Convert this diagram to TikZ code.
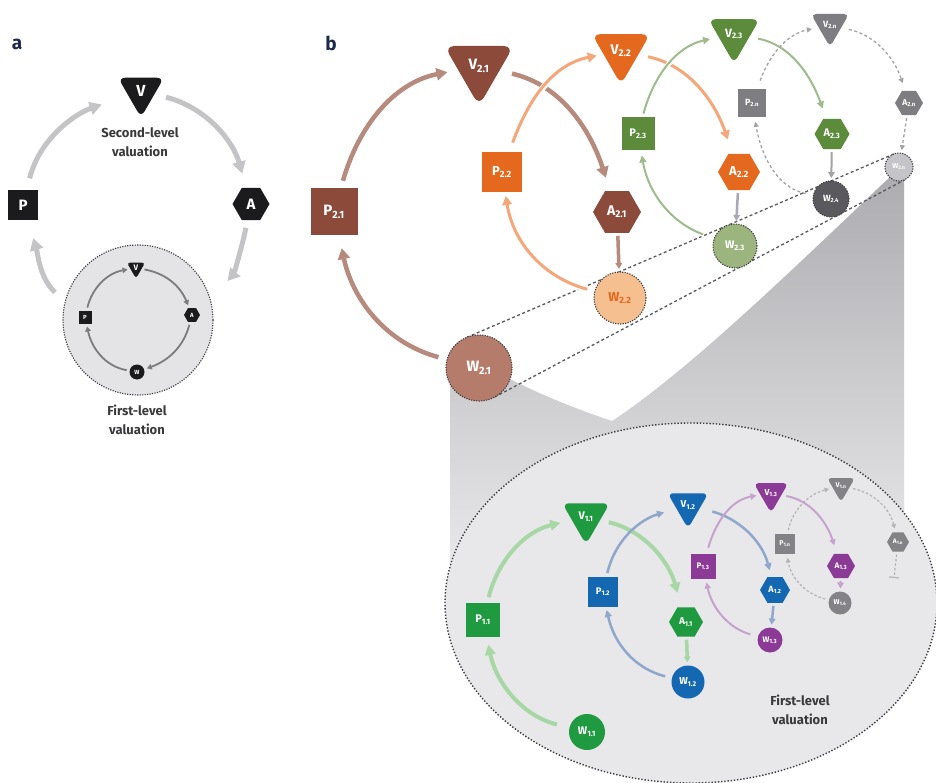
\documentclass[tikz,border=0pt]{standalone}
\usepackage{fontspec}
\setmainfont{Fira Sans}
\usetikzlibrary{shapes.geometric,arrows.meta}
\pgfdeclarelayer{bg}
\pgfsetlayers{bg,main}

% palette
\definecolor{navy}{HTML}{1C2B4A}
\definecolor{blk}{HTML}{1B1B1D}
\definecolor{aArr}{HTML}{C4C4C6}
\definecolor{aIn}{HTML}{7C7C80}
\definecolor{aFill}{HTML}{E4E4E6}
\definecolor{dotc}{HTML}{3C3C3E}
\definecolor{txtc}{HTML}{3A3A3C}
\definecolor{brD}{HTML}{8C4A3B}
\definecolor{brW}{HTML}{B57C6B}
\definecolor{brArr}{HTML}{B68A7C}
\definecolor{orD}{HTML}{E4691E}
\definecolor{orW}{HTML}{F6BF8F}
\definecolor{orArr}{HTML}{F5A77A}
\definecolor{olD}{HTML}{5B8B3B}
\definecolor{olW}{HTML}{9CB57F}
\definecolor{olArr}{HTML}{9DBB8C}
\definecolor{gyD}{HTML}{7E7E82}
\definecolor{gyW}{HTML}{5A5A5E}
\definecolor{gyWn}{HTML}{C5C5C9}
\definecolor{gyArr}{HTML}{A2A2A6}
\definecolor{lnkC}{HTML}{A9A9B5}
\definecolor{gnD}{HTML}{1F9A40}
\definecolor{gnArr}{HTML}{A6D7A5}
\definecolor{buD}{HTML}{1468B2}
\definecolor{buArr}{HTML}{8EA7CB}
\definecolor{puD}{HTML}{8B3B96}
\definecolor{puArr}{HTML}{C6A2CD}
\definecolor{g1D}{HTML}{838387}
\definecolor{g1Arr}{HTML}{B2B2B6}
\definecolor{eFill}{HTML}{E8E8EA}
\definecolor{coneT}{HTML}{ACACB0}
\definecolor{coneB}{HTML}{ECECEE}

\newcommand\fsz[1]{\fontsize{#1}{#1}\selectfont\bfseries}
\newcommand\fszl[2]{\fontsize{#1}{#2}\selectfont\bfseries}

\tikzset{
  every node/.style={inner sep=0pt, outer sep=0pt},
  vnode/.style={regular polygon, regular polygon sides=3, shape border rotate=180, rounded corners=#1},
  vnode/.default=4pt,
  pnode/.style={rectangle},
  anode/.style={regular polygon, regular polygon sides=6},
  wnode/.style={circle},
  wdot/.style={draw=dotc, line width=1.1pt, dash pattern=on 1.2pt off 1.3pt},
  lbl/.style={font=\fsz{19}, text=navy},
  caption/.style={font=\fszl{13}{19}, text=txtc, align=center},
  halo/.style={preaction={draw=white, line width=#1, -}},
  bigA/.style={draw=aArr, line width=5pt, -{Triangle[length=12pt,width=13pt]}},
  inA/.style={draw=aIn, line width=1.8pt, -{Triangle[length=5pt,width=5.5pt]}, shorten <=3pt, shorten >=3pt},
  brA/.style={draw=brArr, line width=4.5pt, -{Triangle[length=11pt,width=12pt]}},
  orA/.style={draw=orArr, line width=3pt, -{Triangle[length=9pt,width=9.5pt]}, halo=6pt},
  olA/.style={draw=olArr, line width=2pt, -{Triangle[length=7pt,width=7pt]}, halo=5pt},
  gyA/.style={draw=gyArr, line width=1.3pt, dash pattern=on 3pt off 2.5pt, -{Triangle[length=5pt,width=5pt]}},
  gnA/.style={draw=gnArr, line width=4pt, -{Triangle[length=10pt,width=10.5pt]}},
  buA/.style={draw=buArr, line width=2.5pt, -{Triangle[length=7pt,width=7pt]}},
  puA/.style={draw=puArr, line width=2pt, -{Triangle[length=6pt,width=6pt]}},
  g1A/.style={draw=g1Arr, line width=1.2pt, dash pattern=on 2.5pt off 2pt, -{Triangle[length=4.5pt,width=4.5pt]}},
  link/.style={line width=#1, -{Triangle[length=6pt,width=6.5pt]}, shorten <=3pt, shorten >=3pt},
  zl/.style={draw=gyW, line width=1.3pt, dash pattern=on 3pt off 2.5pt},
}

\begin{document}
\begin{tikzpicture}[x=1pt,y=-1pt]
\useasboundingbox (0,0) rectangle (936,783);

% ================= panel a =================
\node[lbl] (la) at (17,44) {a};
\node[vnode=7pt, minimum size=53, fill=blk, text=white, font=\fsz{16}] (aV) at (141,91) {V};
\node[pnode, minimum size=30, fill=blk, text=white, font=\fsz{15}] (aP) at (23,205) {P};
\node[anode, minimum size=37, fill=blk, text=white, font=\fsz{15}] (aA) at (251,204) {A};
\node[wnode, minimum size=150, fill=aFill, wdot] (aD) at (138,320) {};
\node[vnode=3pt, minimum size=21, fill=blk, text=white, font=\fsz{8}] (iV) at (136,268) {V};
\node[anode, minimum size=16, fill=blk, text=white, font=\fsz{6}] (iA) at (192,315) {A};
\node[wnode, minimum size=15, fill=blk, text=white, font=\fsz{6}] (iW) at (137,372) {W};
\node[pnode, minimum size=13, fill=blk, text=white, font=\fsz{6}] (iP) at (85,317) {P};
\node[caption] (aT2) at (140,142) {Second-level\\valuation};
\node[caption] (aT1) at (137,420) {First-level\\valuation};

\draw[bigA, shorten <=12pt, shorten >=28pt] (aP) to[out=76,in=199] (aV);
\draw[bigA, shorten <=12pt, shorten >=15pt] (aV) to[out=-14,in=106] (aA);
\draw[bigA, shorten <=8pt, shorten >=26pt] (aA) to[out=-102,in=49] (aD.15);
\draw[bigA, shorten <=14pt, shorten >=19pt] (aD.166) to[out=137,in=-73] (aP);

\draw[inA] (iV) to[out=-10,in=112] (iA);
\draw[inA] (iA) to[out=-105,in=20] (iW);
\draw[inA] (iW) to[out=170,in=-78] (iP);
\draw[inA] (iP) to[out=76,in=190] (iV);

% ================= panel b, second level =================
\node[lbl] (lb) at (331,43) {b};

\node[vnode=10pt, minimum size=80, fill=brD, text=white, font=\fsz{15}] (V21) at (479,66) {V\textsubscript{2.1}};
\node[pnode, minimum size=47, fill=brD, text=white, font=\fsz{15}] (P21) at (334,212) {P\textsubscript{2.1}};
\node[anode, minimum size=48, fill=brD, text=white, font=\fsz{14}] (A21) at (617,212) {A\textsubscript{2.1}};
\node[wnode, minimum size=66, fill=brW, wdot, text=white, font=\fsz{15}] (W21) at (479,368) {W\textsubscript{2.1}};

\node[vnode=8pt, minimum size=67, fill=orD, text=white, font=\fsz{14}] (V22) at (621,51) {V\textsubscript{2.2}};
\node[pnode, minimum size=40, fill=orD, text=white, font=\fsz{13}] (P22) at (502,172) {P\textsubscript{2.2}};
\node[anode, minimum size=42, fill=orD, text=white, font=\fsz{13}] (A22) at (739,172) {A\textsubscript{2.2}};
\node[wnode, minimum size=52, fill=orW, wdot, text=orD, font=\fsz{13}] (W22) at (620,298) {W\textsubscript{2.2}};

\node[vnode=7pt, minimum size=59, fill=olD, text=white, font=\fsz{12}] (V23) at (734,34) {V\textsubscript{2.3}};
\node[pnode, minimum size=33, fill=olD, text=white, font=\fsz{11}] (P23) at (638,134) {P\textsubscript{2.3}};
\node[anode, minimum size=35, fill=olD, text=white, font=\fsz{11}] (A23) at (832,134) {A\textsubscript{2.3}};
\node[wnode, minimum size=44, fill=olW, wdot, text=white, font=\fsz{11}] (W23) at (735,246) {W\textsubscript{2.3}};

\node[vnode=5pt, minimum size=44, fill=gyD, text=white, font=\fsz{9}] (V2n) at (830,25) {V\textsubscript{2.n}};
\node[pnode, minimum size=28, fill=gyD, text=white, font=\fsz{9}] (P2n) at (752,103) {P\textsubscript{2.n}};
\node[anode, minimum size=28, fill=gyD, text=white, font=\fsz{8.5}] (A2n) at (909,103) {A\textsubscript{2.n}};
\node[wnode, minimum size=36, fill=gyW, wdot, text=white, font=\fsz{9}] (W24) at (831,199) {W\textsubscript{2.4}};
\node[wnode, minimum size=28, fill=gyWn, wdot, text=white, font=\fsz{7}] (W2n) at (899,167) {W\textsubscript{2.n}};

% brown cycle
\draw[brA, shorten <=8pt, shorten >=11pt] (P21) to[out=74,in=191] (V21);
\draw[brA, shorten <=13pt, shorten >=14pt] (V21) to[out=-13,in=108] (A21);
\draw[brA, shorten <=9pt, shorten >=13pt] (W21) to[out=165,in=-78] (P21);
\draw[draw=brArr, link=3.5pt] (A21) -- (W22);
% orange cycle
\draw[orA, shorten <=10pt, shorten >=7pt] (P22) to[out=70,in=191] (V22);
\draw[orA, shorten <=10pt, shorten >=15pt] (V22) to[out=-12,in=109] (A22);
\draw[orA, shorten <=8pt, shorten >=4pt] (W22) to[out=165,in=-81] (P22);
\draw[draw=lnkC, link=2.5pt] (A22) -- (W23);
% green cycle
\draw[olA, shorten <=4pt, shorten >=9pt] (P23) to[out=75,in=192] (V23);
\draw[olA, shorten <=9pt, shorten >=11pt] (V23) to[out=-11,in=110] (A23);
\draw[olA, shorten <=12pt, shorten >=5pt] (W23) to[out=160,in=-80] (P23);
\draw[draw=gyArr, link=2pt] (A23) -- (W24);
% grey cycle
\draw[gyA, shorten <=9pt, shorten >=7pt] (P2n) to[out=70,in=192] (V2n);
\draw[gyA, shorten <=8pt, shorten >=8pt] (V2n) to[out=-13,in=108] (A2n);
\draw[gyA, shorten <=8pt, shorten >=5pt] (W24) to[out=168,in=-80] (P2n);
\draw[gyA, shorten <=3pt, shorten >=3pt] (A2n) -- (W2n);

% ================= first level (inside the ellipse) =================
\node[vnode=7pt, minimum size=55, fill=gnD, text=white, font=\fsz{11}] (V11) at (586,517) {V\textsubscript{1.1}};
\node[pnode, minimum size=34, fill=gnD, text=white, font=\fsz{11}] (P11) at (483,620) {P\textsubscript{1.1}};
\node[anode, minimum size=34, fill=gnD, text=white, font=\fsz{10}] (A11) at (686,622) {A\textsubscript{1.1}};
\node[wnode, minimum size=36, fill=gnD, text=white, font=\fsz{11}] (W11) at (587,732) {W\textsubscript{1.1}};

\node[vnode=6pt, minimum size=47, fill=buD, text=white, font=\fsz{10}] (V12) at (688,505) {V\textsubscript{1.2}};
\node[pnode, minimum size=30, fill=buD, text=white, font=\fsz{9.5}] (P12) at (603,592) {P\textsubscript{1.2}};
\node[anode, minimum size=30, fill=buD, text=white, font=\fsz{9}] (A12) at (775,590) {A\textsubscript{1.2}};
\node[wnode, minimum size=33, fill=buD, text=white, font=\fsz{10}] (W12) at (688,682) {W\textsubscript{1.2}};

\node[vnode=5pt, minimum size=40, fill=puD, text=white, font=\fsz{8.5}] (V13) at (771,493) {V\textsubscript{1.3}};
\node[pnode, minimum size=25, fill=puD, text=white, font=\fsz{8}] (P13) at (703,566) {P\textsubscript{1.3}};
\node[anode, minimum size=28, fill=puD, text=white, font=\fsz{8}] (A13) at (841,566) {A\textsubscript{1.3}};
\node[wnode, minimum size=25, fill=puD, text=white, font=\fsz{8}] (W13) at (770,640) {W\textsubscript{1.3}};

\node[vnode=4pt, minimum size=32, fill=g1D, text=white, font=\fsz{7}] (V1n) at (841,486) {V\textsubscript{1.n}};
\node[pnode, minimum size=20, fill=g1D, text=white, font=\fsz{7}] (P1n) at (785,544) {P\textsubscript{1.n}};
\node[anode, minimum size=22, fill=g1D, text=white, font=\fsz{6.5}] (A1n) at (898,542) {A\textsubscript{1.n}};
\node[wnode, minimum size=23, fill=g1D, text=white, font=\fsz{7}] (W1n) at (840,603) {W\textsubscript{1.4}};
\coordinate (A1nEnd) at (894,578);

\node[caption] (eT) at (800,710) {First-level\\valuation};

% green cycle
\draw[gnA, shorten <=6pt, shorten >=12pt] (P11) to[out=76,in=193] (V11);
\draw[gnA, shorten <=9pt, shorten >=15pt] (V11) to[out=-13,in=106] (A11);
\draw[gnA, shorten <=13pt, shorten >=8pt] (W11) to[out=166,in=-78] (P11);
\draw[draw=gnArr, link=3.5pt] (A11) -- (W12);
% blue cycle
\draw[buA, shorten <=4pt, shorten >=13pt] (P12) to[out=77,in=197] (V12);
\draw[buA, shorten <=13pt, shorten >=7pt] (V12) to[out=-15,in=105] (A12);
\draw[buA, shorten <=7pt, shorten >=3pt] (W12) to[out=166,in=-78] (P12);
\draw[draw=buArr, link=2.5pt] (A12) -- (W13);
% purple cycle
\draw[puA, shorten <=6pt, shorten >=4pt] (P13) to[out=74,in=190] (V13);
\draw[puA, shorten <=5pt, shorten >=9pt] (V13) to[out=-11,in=108] (A13);
\draw[puA, shorten <=8pt, shorten >=4pt] (W13) to[out=164,in=-78] (P13);
\draw[draw=puArr, link=2pt] (A13) -- (W1n);
% grey cycle
\draw[g1A, shorten <=4pt, shorten >=4pt] (P1n) to[out=77,in=194] (V1n);
\draw[g1A, shorten <=4pt, shorten >=4pt] (V1n) to[out=-12,in=104] (A1n);
\draw[g1A, shorten <=4pt, shorten >=4pt] (W1n) to[out=165,in=-80] (P1n);
\draw[g1A, -{Bar[width=10pt]}, shorten <=3pt] (A1n) -- (A1nEnd);

% ================= background: magnifier cone, ellipse, guide lines =================
\begin{pgfonlayer}{bg}
  \fill[white] (0,0) rectangle (936,783);
  \shade[top color=coneT, bottom color=coneB]
    (450,380) -- (450,590) -- (904,590) -- (904,170) -- (891,176)
    .. controls (800,262) and (690,370) .. (612,421)
    .. controls (585,412) and (545,397) .. (512,380) -- cycle;
  \node[ellipse, minimum width=492, minimum height=360, fill=eFill, draw=dotc,
        line width=1.4pt, dash pattern=on 1.4pt off 1.8pt] (E) at (691,603) {};
  \draw[zl] (W21.112) -- (W2n.112);
  \draw[zl] (W21.-62) -- (W2n.-62);
\end{pgfonlayer}
\end{tikzpicture}
\end{document}
